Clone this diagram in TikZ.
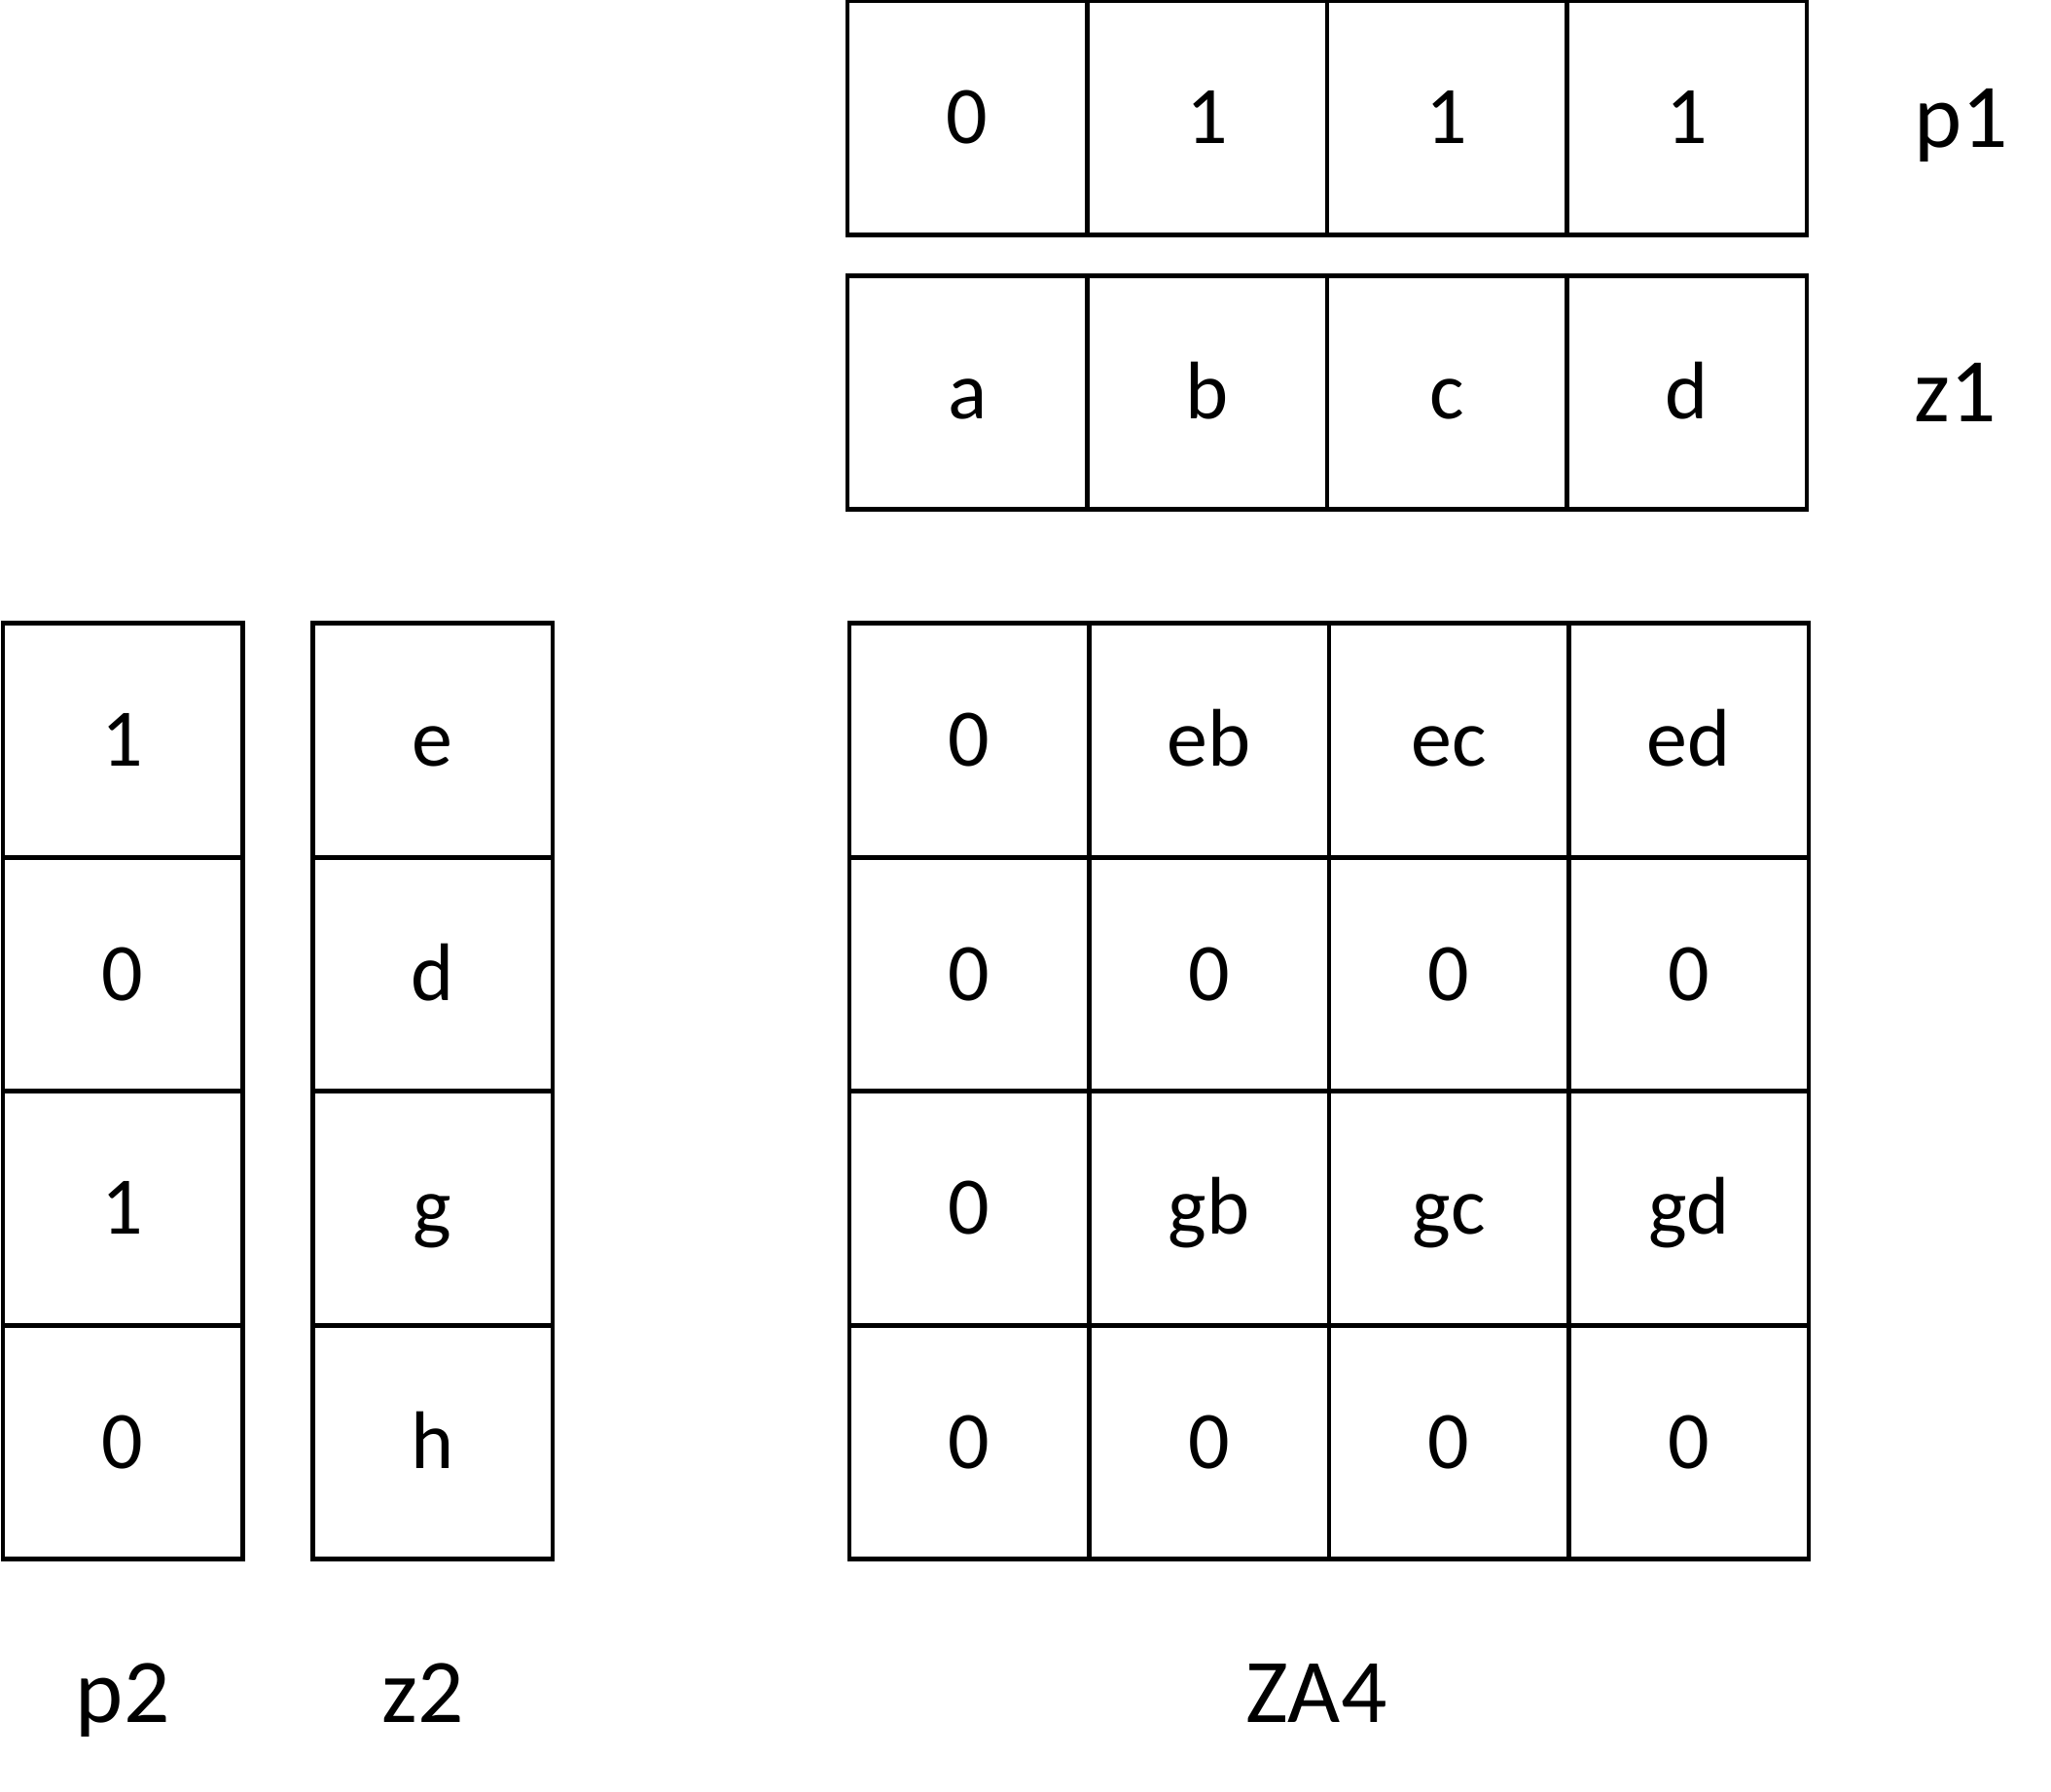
\documentclass[tikz,border=0pt]{standalone}
\usepackage{fontspec}
\setmainfont{Carlito}
\usetikzlibrary{positioning}

\tikzset{
  cell/.style={draw, line width=1.35pt, minimum width=2.465cm, minimum height=2.405cm,
    inner sep=0pt, outer sep=0pt, text height=0.53cm, text depth=0pt,
    font=\fontsize{23.9}{28}\selectfont},
  tag/.style={inner sep=0pt, text height=0.6cm, text depth=0pt,
    font=\fontsize{26.6}{32}\selectfont}
}

\begin{document}
\begin{tikzpicture}[node distance=0pt]
  \useasboundingbox (0,0) rectangle (21.08,-18.41);

  % column p2
  \node[cell] (p2a) at (1.262,-7.61) {1};
  \node[cell] (p2b) [below=of p2a] {0};
  \node[cell] (p2c) [below=of p2b] {1};
  \node[cell] (p2d) [below=of p2c] {0};

  % column z2
  \node[cell] (z2a) [right=0.72cm of p2a] {e};
  \node[cell] (z2b) [below=of z2a] {d};
  \node[cell] (z2c) [below=of z2b] {g};
  \node[cell] (z2d) [below=of z2c] {h};

  % matrix ZA4
  \node[cell] (za11) [right=3.05cm of z2a] {0};
  \node[cell] (za12) [right=of za11] {eb};
  \node[cell] (za13) [right=of za12] {ec};
  \node[cell] (za14) [right=of za13] {ed};
  \node[cell] (za21) [below=of za11] {0};
  \node[cell] (za22) [right=of za21] {0};
  \node[cell] (za23) [right=of za22] {0};
  \node[cell] (za24) [right=of za23] {0};
  \node[cell] (za31) [below=of za21] {0};
  \node[cell] (za32) [right=of za31] {gb};
  \node[cell] (za33) [right=of za32] {gc};
  \node[cell] (za34) [right=of za33] {gd};
  \node[cell] (za41) [below=of za31] {0};
  \node[cell] (za42) [right=of za41] {0};
  \node[cell] (za43) [right=of za42] {0};
  \node[cell] (za44) [right=of za43] {0};

  % row z1
  \node[cell] (z1a) [above=1.17cm of za11, xshift=-0.02cm] {a};
  \node[cell] (z1b) [right=of z1a] {b};
  \node[cell] (z1c) [right=of z1b] {c};
  \node[cell] (z1d) [right=of z1c] {d};

  % row p1
  \node[cell] (p1a) [above=0.42cm of z1a] {0};
  \node[cell] (p1b) [right=of p1a] {1};
  \node[cell] (p1c) [right=of p1b] {1};
  \node[cell] (p1d) [right=of p1c] {1};

  % names
  \node[tag] (p1) [right=1.1cm of p1d] {p1};
  \node[tag] (z1) [right=1.1cm of z1d] {z1};
  \node[tag] (p2) [below=1.07cm of p2d] {p2};
  \node[tag] (z2) [below=1.07cm of z2d, xshift=-0.1cm] {z2};
  \node[tag] (za4) [below=1.07cm of za42.south east, xshift=-0.13cm] {ZA4};
\end{tikzpicture}
\end{document}
